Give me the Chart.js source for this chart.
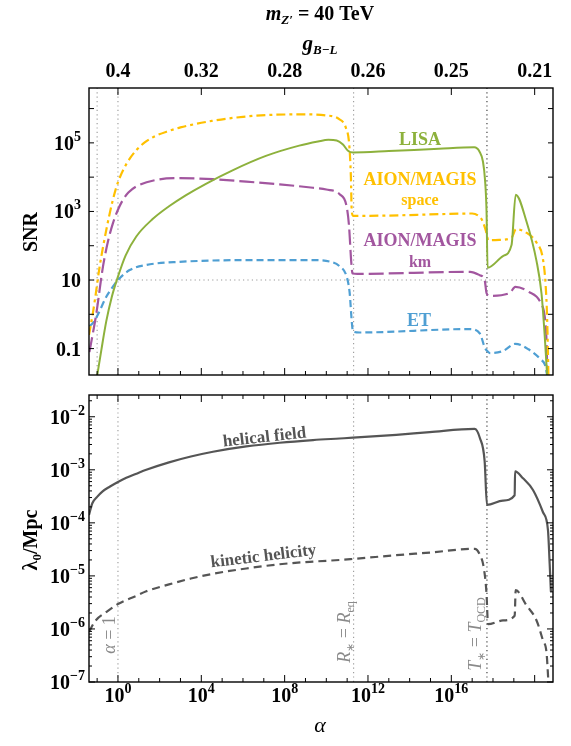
<!DOCTYPE html>
<html>
<head>
<meta charset="utf-8">
<title>SNR and coherence length vs alpha</title>
<script src="https://cdn.jsdelivr.net/npm/chart.js@4.4.0/dist/chart.umd.min.js"></script>
<style>
  body { margin: 0; background: white; }
  #wrap { position: relative; width: 571px; height: 746px; }
  canvas { position: absolute; left: 0; }
  #snrChart { top: 0; }
  #lambdaChart { top: 380px; }
</style>
</head>
<body>
<div id="wrap">
  <canvas id="snrChart" width="571" height="380"></canvas>
  <canvas id="lambdaChart" width="571" height="366"></canvas>
</div>
<script>
const SERIF = '"Liberation Serif", "Times New Roman", serif';

// every value below is log10 of the quantity
const alphaMinLog = -1.39, alphaMaxLog = 20.88;
const snrMinLog = -1.77, snrMaxLog = 6.6;
const lamMinLog = -7.0, lamMaxLog = -1.59;

// AION/MAGIS space (yellow dot-dash)
const spaceA   = [-1.39, -1.20, -1.10, -0.88, -0.56, -0.24, 0.00, 0.40, 0.90, 1.30, 1.80, 2.40, 3.00, 4.50, 6.00, 7.50, 9.00, 10.00, 10.60, 10.95, 11.10, 11.18, 11.22, 11.30, 13.00, 15.40, 17.00, 17.35, 17.50, 17.65, 17.78, 18.30, 18.90, 19.10, 19.60, 20.10, 20.40, 20.53, 20.60, 20.66];
const spaceSNR = [-0.60, 0.05, 0.45, 1.39, 2.46, 3.35, 3.85, 4.38, 4.80, 5.02, 5.20, 5.34, 5.45, 5.64, 5.76, 5.82, 5.83, 5.80, 5.70, 5.42, 4.95, 4.00, 3.00, 2.87, 2.88, 2.92, 2.94, 2.85, 2.72, 2.45, 2.16, 2.17, 2.24, 2.48, 2.38, 2.08, 1.60, 0.82, -0.15, -1.80];

// LISA (green solid)
const lisaA   = [-1.00, -0.80, -0.56, -0.30, 0.00, 0.37, 0.88, 1.65, 2.45, 3.25, 4.20, 5.50, 7.10, 8.70, 9.60, 10.10, 10.50, 10.80, 11.04, 11.28, 13.00, 15.40, 17.10, 17.35, 17.52, 17.62, 17.69, 17.74, 18.48, 18.89, 19.09, 19.60, 20.09, 20.33, 20.49, 20.60];
const lisaSNR = [-1.80, -1.05, -0.20, 0.50, 1.10, 1.72, 2.27, 2.77, 3.15, 3.47, 3.80, 4.20, 4.62, 4.92, 5.04, 5.09, 5.07, 4.95, 4.77, 4.72, 4.76, 4.83, 4.87, 4.75, 4.45, 3.90, 3.00, 1.36, 1.70, 2.02, 3.49, 2.72, 1.55, 0.60, -0.70, -1.80];

// AION/MAGIS km (purple long dash)
const kmA   = [-1.37, -1.04, -0.72, -0.45, -0.24, 0.00, 0.24, 0.50, 0.88, 1.84, 2.96, 4.56, 6.16, 7.76, 9.36, 10.00, 10.64, 10.97, 11.09, 11.20, 11.26, 11.50, 16.90, 17.37, 17.60, 17.69, 17.85, 18.80, 19.07, 19.70, 20.30, 20.49, 20.57, 20.61];
const kmSNR = [-1.10, 0.02, 1.39, 2.20, 2.66, 3.05, 3.34, 3.55, 3.73, 3.92, 3.97, 3.94, 3.87, 3.79, 3.69, 3.64, 3.50, 3.16, 2.58, 1.50, 1.19, 1.18, 1.24, 1.14, 1.00, 0.62, 0.54, 0.62, 0.80, 0.66, 0.32, -0.10, -0.80, -1.80];

// ET (blue short dash)
const etA   = [-1.37, -1.20, -1.00, -0.56, -0.25, 0.00, 0.56, 1.36, 2.96, 6.16, 9.36, 10.16, 10.64, 10.97, 11.12, 11.22, 11.28, 11.60, 16.88, 17.37, 17.60, 17.69, 17.85, 18.48, 19.07, 19.70, 20.30, 20.49, 20.61];
const etSNR = [-0.35, -0.25, -0.05, 0.51, 0.80, 1.00, 1.29, 1.44, 1.53, 1.58, 1.58, 1.54, 1.40, 1.11, 0.63, -0.20, -0.50, -0.53, -0.43, -0.56, -0.96, -1.05, -1.13, -1.07, -0.86, -1.02, -1.32, -1.47, -1.80];

// lambda_0 / Mpc, helical field (solid)
const helA   = [-1.39, -1.23, -1.00, -0.75, -0.40, 0.00, 0.40, 0.85, 1.36, 2.45, 3.50, 4.56, 6.16, 7.76, 9.36, 10.64, 11.28, 13.36, 14.96, 17.12, 17.37, 17.60, 17.71, 18.48, 19.04, 19.06, 19.44, 19.92, 20.40, 20.64, 20.72, 20.78];
const helLam = [-3.85, -3.63, -3.51, -3.41, -3.32, -3.23, -3.15, -3.08, -3.00, -2.86, -2.75, -2.66, -2.56, -2.49, -2.44, -2.41, -2.395, -2.34, -2.29, -2.23, -2.40, -2.84, -3.66, -3.58, -3.48, -3.03, -3.16, -3.38, -3.80, -4.14, -4.77, -5.30];

// lambda_0 / Mpc, kinetic helicity (dashed)
const kinA   = [-1.39, -1.07, -0.59, 0.00, 0.85, 1.36, 2.45, 3.50, 4.56, 6.16, 7.76, 9.36, 10.64, 11.28, 13.36, 14.96, 17.12, 17.37, 17.56, 17.69, 17.76, 18.48, 19.04, 19.09, 19.60, 20.09, 20.40, 20.57, 20.66];
const kinLam = [-6.05, -5.84, -5.69, -5.53, -5.38, -5.29, -5.16, -5.05, -4.96, -4.86, -4.78, -4.73, -4.70, -4.68, -4.61, -4.56, -4.49, -4.60, -4.85, -5.34, -5.91, -5.84, -5.75, -5.27, -5.55, -5.84, -6.22, -6.45, -7.00];

// reference lines (log10 alpha) and the SNR threshold
const snrVLines = [-1, 0, 11.31, 17.71];
const lamVLines = [0, 11.31, 17.71];
const snrThresholdLog = 1;

// tick labels
const gTickA = [0, 4, 8, 12, 16, 20];
const gLabels = ['0.4', '0.32', '0.28', '0.26', '0.25', '0.21'];
const snrTickLog = [-1, 1, 3, 5];
const snrTickLabels = ['0.1', '10', '10^3', '10^5'];
const lamTickLog = [-7, -6, -5, -4, -3, -2];
const lamTickLabels = ['10^\u22127', '10^\u22126', '10^\u22125', '10^\u22124', '10^\u22123', '10^\u22122'];
const alphaTickLog = [0, 4, 8, 12, 16];
const alphaTickLabels = ['10^0', '10^4', '10^8', '10^12', '10^16'];

const GREEN = '#8DB13C', YELLOW = '#FFC000', PURPLE = '#A2569F', BLUE = '#4F9FD3', DARK = '#555555';

function pts(a, v) {
  return a.map((x, i) => ({ x: Math.pow(10, x), y: Math.pow(10, v[i]) }));
}

function curve(a, v, color, dash, width) {
  return {
    data: pts(a, v), borderColor: color, borderWidth: width || 2, borderDash: dash || [],
    pointRadius: 0, cubicInterpolationMode: 'monotone', fill: false, order: 1, borderJoinStyle: 'round'
  };
}

function refLine(p, color) {
  return { data: p, borderColor: color, borderWidth: 1.1, borderDash: [1.2, 3.2], pointRadius: 0, fill: false, order: 10 };
}

function vLine(a, yMinLog, yMaxLog, color) {
  return refLine([{ x: Math.pow(10, a), y: Math.pow(10, yMinLog) }, { x: Math.pow(10, a), y: Math.pow(10, yMaxLog) }], color);
}

// draw a row of text pieces, each with its own font and vertical offset
function drawRich(ctx, parts, x, y, align) {
  let w = 0;
  parts.forEach(p => { ctx.font = p.f; p.w = ctx.measureText(p.t).width; w += p.w; });
  let cx = align === 'right' ? x - w : align === 'center' ? x - w / 2 : x;
  ctx.textAlign = 'left';
  ctx.textBaseline = 'alphabetic';
  parts.forEach(p => { ctx.font = p.f; ctx.fillText(p.t, cx, y + (p.dy || 0)); cx += p.w; });
}

function powParts(str, size) {
  const s = str.split('^');
  const parts = [{ t: s[0], f: 'bold ' + size + 'px ' + SERIF }];
  if (s[1]) parts.push({ t: s[1], f: 'bold ' + Math.round(size * 0.72) + 'px ' + SERIF, dy: -size * 0.45 });
  return parts;
}

function drawRotated(ctx, parts, cx, cy, angle, align) {
  ctx.save();
  ctx.translate(cx, cy);
  ctx.rotate(angle);
  drawRich(ctx, parts, 0, 0, align || 'center');
  ctx.restore();
}

function seg(ctx, x1, y1, x2, y2) {
  ctx.beginPath(); ctx.moveTo(x1, y1); ctx.lineTo(x2, y2); ctx.stroke();
}

const F = (style, size) => style + ' ' + size + 'px ' + SERIF;

const snrDecor = {
  id: 'snrDecor',
  afterDraw(chart) {
    const { ctx, chartArea: a, scales } = chart;
    const x = scales.x, y = scales.y;
    ctx.save();
    ctx.strokeStyle = '#000';
    ctx.lineWidth = 1;
    for (let k = -1; k <= 20; k++) {
      const px = x.getPixelForValue(Math.pow(10, k));
      seg(ctx, px, a.bottom, px, a.bottom - (k % 4 === 0 ? 7 : 4));
    }
    gTickA.forEach(k => {
      const px = x.getPixelForValue(Math.pow(10, k));
      seg(ctx, px, a.top, px, a.top + 7);
    });
    for (let k = -1; k <= 6; k++) {
      const py = y.getPixelForValue(Math.pow(10, k));
      seg(ctx, a.left, py, a.left + 5, py);
      seg(ctx, a.right, py, a.right - 5, py);
    }
    ctx.lineWidth = 1.4;
    ctx.strokeRect(a.left, a.top, a.right - a.left, a.bottom - a.top);

    ctx.fillStyle = '#000';
    snrTickLog.forEach((k, i) => {
      drawRich(ctx, powParts(snrTickLabels[i], 20), 81, y.getPixelForValue(Math.pow(10, k)) + 7, 'right');
    });

    // title and top axis title
    drawRich(ctx, [
      { t: 'm', f: F('italic bold', 20) },
      { t: 'Z\u2032', f: F('italic bold', 13), dy: 4 },
      { t: ' = 40 TeV', f: F('bold', 20) }
    ], 320, 20, 'center');
    drawRich(ctx, [
      { t: 'g', f: F('italic bold', 21) },
      { t: 'B\u2212L', f: F('italic bold', 13), dy: 4 }
    ], 320, 50, 'center');

    drawRotated(ctx, [{ t: 'SNR', f: F('bold', 20) }], 37, 232, -Math.PI / 2);

    // curve labels
    ctx.fillStyle = GREEN;
    drawRich(ctx, [{ t: 'LISA', f: F('bold', 18) }], 420, 145, 'center');
    ctx.fillStyle = YELLOW;
    drawRich(ctx, [{ t: 'AION/MAGIS', f: F('bold', 18) }], 420, 185, 'center');
    drawRich(ctx, [{ t: 'space', f: F('bold', 16) }], 420, 205, 'center');
    ctx.fillStyle = PURPLE;
    drawRich(ctx, [{ t: 'AION/MAGIS', f: F('bold', 18) }], 420, 246, 'center');
    drawRich(ctx, [{ t: 'km', f: F('bold', 16) }], 420, 267, 'center');
    ctx.fillStyle = BLUE;
    drawRich(ctx, [{ t: 'ET', f: F('bold', 18) }], 419, 326, 'center');
    ctx.restore();
  }
};

const lamDecor = {
  id: 'lamDecor',
  afterDraw(chart) {
    const { ctx, chartArea: a, scales } = chart;
    const x = scales.x, y = scales.y;
    ctx.save();
    ctx.strokeStyle = '#000';
    ctx.lineWidth = 1;
    for (let k = -1; k <= 20; k++) {
      const px = x.getPixelForValue(Math.pow(10, k));
      const len = k % 4 === 0 ? 7 : 4;
      seg(ctx, px, a.bottom, px, a.bottom - len);
      seg(ctx, px, a.top, px, a.top + len);
    }
    for (let k = -7; k <= -2; k++) {
      for (let m = 1; m <= 9; m++) {
        const v = m * Math.pow(10, k);
        if (v > y.max) continue;
        const py = y.getPixelForValue(v);
        const len = m === 1 ? 6 : 3;
        seg(ctx, a.left, py, a.left + len, py);
        seg(ctx, a.right, py, a.right - len, py);
      }
    }
    ctx.lineWidth = 1.4;
    ctx.strokeRect(a.left, a.top, a.right - a.left, a.bottom - a.top);

    ctx.fillStyle = '#000';
    lamTickLog.forEach((k, i) => {
      drawRich(ctx, powParts(lamTickLabels[i], 20), 85, y.getPixelForValue(Math.pow(10, k)) + 7, 'right');
    });
    alphaTickLog.forEach((k, i) => {
      drawRich(ctx, powParts(alphaTickLabels[i], 20), x.getPixelForValue(Math.pow(10, k)), a.bottom + 20, 'center');
    });
    drawRich(ctx, [{ t: '\u03b1', f: F('italic', 22) }], 320, a.bottom + 50, 'center');

    drawRotated(ctx, [
      { t: '\u03bb', f: F('bold', 20) },
      { t: '0', f: F('bold', 13), dy: 4 },
      { t: '/Mpc', f: F('bold', 20) }
    ], 37, 160, -Math.PI / 2);

    // curve labels
    ctx.fillStyle = DARK;
    drawRotated(ctx, [{ t: 'helical field', f: F('bold', 17) }], 265, 62, -0.11);
    drawRotated(ctx, [{ t: 'kinetic helicity', f: F('bold', 17) }], 264, 181, -0.12);

    // vertical markers
    ctx.fillStyle = '#8a8a8a';
    drawRotated(ctx, [
      { t: '\u03b1', f: F('italic', 18) },
      { t: ' = 1', f: F('', 18) }
    ], 115, 255, -Math.PI / 2);
    drawRotated(ctx, [
      { t: 'R', f: F('italic', 18) },
      { t: '\u2217', f: F('', 11), dy: 4 },
      { t: ' = ', f: F('', 18) },
      { t: 'R', f: F('italic', 18) },
      { t: 'eq', f: F('', 12), dy: 4 }
    ], 350, 252, -Math.PI / 2);
    drawRotated(ctx, [
      { t: 'T', f: F('italic', 18) },
      { t: '\u2217', f: F('', 11), dy: 4 },
      { t: ' = ', f: F('', 18) },
      { t: 'T', f: F('italic', 18) },
      { t: 'QCD', f: F('', 12), dy: 4 }
    ], 481, 254, -Math.PI / 2);
    ctx.restore();
  }
};

const logAxis = (minLog, maxLog, extra) => Object.assign({
  type: 'logarithmic', bounds: 'data',
  min: Math.pow(10, minLog), max: Math.pow(10, maxLog),
  ticks: { display: false }, grid: { display: false, drawTicks: false }, border: { display: false }
}, extra);

const common = {
  responsive: false, animation: false, devicePixelRatio: 1,
  plugins: { legend: { display: false }, tooltip: { enabled: false } },
  events: []
};

new Chart(document.getElementById('snrChart'), {
  type: 'line',
  data: {
    datasets: [
      curve(lisaA, lisaSNR, GREEN, [], 2),
      curve(spaceA, spaceSNR, YELLOW, [9, 4, 3, 4], 2.2),
      curve(kmA, kmSNR, PURPLE, [15, 5], 2.2),
      curve(etA, etSNR, BLUE, [7, 4], 2.2),
      refLine([{ x: Math.pow(10, alphaMinLog), y: Math.pow(10, snrThresholdLog) }, { x: Math.pow(10, alphaMaxLog), y: Math.pow(10, snrThresholdLog) }], '#999'),
      vLine(snrVLines[0], snrMinLog, snrMaxLog, '#999'),
      vLine(snrVLines[1], snrMinLog, snrMaxLog, '#999'),
      vLine(snrVLines[2], snrMinLog, snrMaxLog, '#999'),
      vLine(snrVLines[3], snrMinLog, snrMaxLog, '#333')
    ]
  },
  options: Object.assign({}, common, {
    layout: { padding: { top: 0, right: 18, bottom: 0, left: 0 } },
    scales: {
      x: logAxis(alphaMinLog, alphaMaxLog, { position: 'bottom', afterFit: s => { s.height = 5; } }),
      xg: logAxis(alphaMinLog, alphaMaxLog, {
        position: 'top',
        afterBuildTicks: s => { s.ticks = gTickA.map(v => ({ value: Math.pow(10, v) })); },
        ticks: {
          display: true, autoSkip: false, maxRotation: 0, padding: 4, color: '#000',
          font: { family: SERIF, size: 20, weight: 'bold' },
          callback: (v, i) => gLabels[i]
        },
        afterFit: s => { s.height = 88; }
      }),
      y: logAxis(snrMinLog, snrMaxLog, { position: 'left', afterFit: s => { s.width = 89; } })
    }
  }),
  plugins: [snrDecor]
});

new Chart(document.getElementById('lambdaChart'), {
  type: 'line',
  data: {
    datasets: [
      curve(helA, helLam, DARK, [], 2.2),
      curve(kinA, kinLam, DARK, [8, 5], 2.2),
      vLine(lamVLines[0], lamMinLog, lamMaxLog, '#999'),
      vLine(lamVLines[1], lamMinLog, lamMaxLog, '#999'),
      vLine(lamVLines[2], lamMinLog, lamMaxLog, '#333')
    ]
  },
  options: Object.assign({}, common, {
    layout: { padding: { top: 15, right: 18, bottom: 0, left: 0 } },
    scales: {
      x: logAxis(alphaMinLog, alphaMaxLog, { position: 'bottom', afterFit: s => { s.height = 64; } }),
      y: logAxis(lamMinLog, lamMaxLog, { position: 'left', afterFit: s => { s.width = 89; } })
    }
  }),
  plugins: [lamDecor]
});
</script>
</body>
</html>
